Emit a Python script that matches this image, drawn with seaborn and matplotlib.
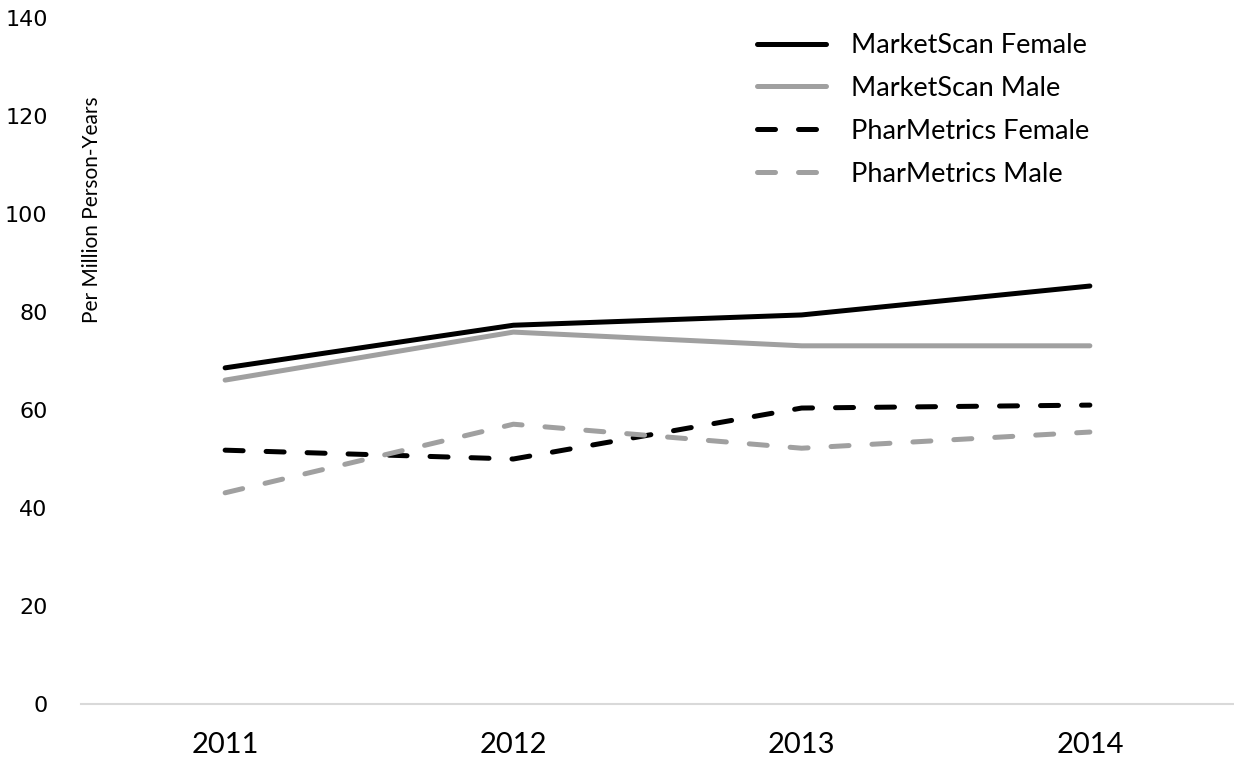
import matplotlib
matplotlib.use("Agg")
import matplotlib.pyplot as plt
import seaborn as sns
import pandas as pd

years = [2011, 2012, 2013, 2014]
series_names = [
    "MarketScan Female",
    "MarketScan Male",
    "PharMetrics Female",
    "PharMetrics Male",
]
marketscan_female = [68.6, 77.3, 79.4, 85.3]
marketscan_male = [66.1, 75.9, 73.1, 73.1]
pharmetrics_female = [51.8, 50.0, 60.4, 61.0]
pharmetrics_male = [43.1, 57.1, 52.2, 55.5]
y_ticks = [0, 20, 40, 60, 80, 100, 120, 140]

values = [marketscan_female, marketscan_male, pharmetrics_female, pharmetrics_male]
rows = []
for name, vals in zip(series_names, values):
    for yr, v in zip(years, vals):
        rows.append({"Year": yr, "Rate": v, "Series": name})
df = pd.DataFrame(rows)

palette = {
    "MarketScan Female": "#000000",
    "MarketScan Male": "#a0a0a0",
    "PharMetrics Female": "#000000",
    "PharMetrics Male": "#a0a0a0",
}
dash_style = {
    "MarketScan Female": "",
    "MarketScan Male": "",
    "PharMetrics Female": (3.6, 4.6),
    "PharMetrics Male": (3.6, 4.6),
}

sns.set_style("white")

fig = plt.figure(figsize=(12.34, 7.62), dpi=100)
ax = fig.add_axes([81 / 1234, 58 / 762, 1 - 81 / 1234, (704 - 18) / 762])

sns.lineplot(
    data=df,
    x="Year",
    y="Rate",
    hue="Series",
    style="Series",
    hue_order=series_names,
    style_order=series_names,
    palette=palette,
    dashes=dash_style,
    linewidth=3.6,
    ax=ax,
)

for line in ax.get_lines():
    line.set_solid_capstyle("round")
    line.set_dash_capstyle("round")

ax.set_xlim(2010.5, 2014.5)
ax.set_ylim(0, 140)
ax.set_xticks(years)
ax.set_xticklabels([str(y) for y in years], family="Lato", fontsize=21, color="black")
ax.set_yticks(y_ticks)
ax.set_yticklabels([str(t) for t in y_ticks], family="DejaVu Sans", fontsize=16, color="black")
ax.tick_params(axis="both", length=0)
ax.tick_params(axis="y", pad=24)
ax.tick_params(axis="x", pad=20)

for side in ["top", "right", "left"]:
    ax.spines[side].set_visible(False)
ax.spines["bottom"].set_color("#d9d9d9")
ax.spines["bottom"].set_linewidth(1.5)

ax.set_xlabel("")
ax.set_ylabel("Per Million Person-Years", family="Lato", fontsize=15, color="black")
ax.yaxis.set_label_coords((102 - 81) / 1153, (704 - 210) / 686)

handles, labels = ax.get_legend_handles_labels()
for h in handles:
    h.set_solid_capstyle("round")
    h.set_dash_capstyle("round")
leg = ax.legend(
    handles,
    labels,
    loc="upper left",
    bbox_to_anchor=((757 - 81) / 1153, (704 - 33) / 686),
    frameon=False,
    prop={"family": "Lato", "size": 19.5},
    handlelength=2.55,
    handletextpad=0.92,
    labelspacing=0.66,
    borderpad=0,
    borderaxespad=0,
)
for t in leg.get_texts():
    t.set_color("black")

fig.savefig("out.png", dpi=100)
